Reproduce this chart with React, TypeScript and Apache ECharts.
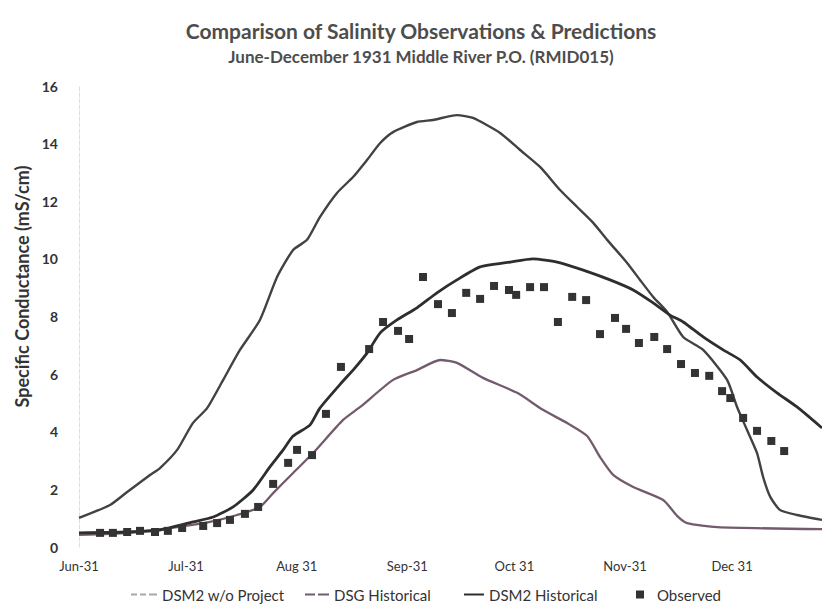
import React, { useEffect, useRef } from 'react';
import * as echarts from 'echarts';

// x values: days since 1 June 1931
const monthTicks = [0, 30, 61, 92, 122, 153, 183];
const monthLabels = ['Jun-31', 'Jul-31', 'Aug 31', 'Sep-31', 'Oct 31', 'Nov-31', 'Dec 31'];

const noProjectDay = [0, 8.7, 13.5, 19.9, 22.7, 27.5, 31.9, 35.9, 40.4, 45.1, 50.7, 55.5, 60.0, 63.9, 67.5, 72.3, 76.8, 80.7, 84.4, 88.0, 94.7, 99.2, 105.9, 110.4, 118.0, 123.6, 129.2, 134.8, 139.6, 144.1, 148.0, 153.6, 157.2, 160.9, 164.8, 169.3, 174.9, 181.6, 184.4, 187.2, 190.0, 191.7, 193.7, 196.5, 201.2, 208.2];
const noProjectVal = [1.01, 1.46, 1.91, 2.50, 2.74, 3.37, 4.30, 4.82, 5.80, 6.84, 7.88, 9.37, 10.31, 10.66, 11.45, 12.29, 12.84, 13.43, 14.02, 14.40, 14.75, 14.82, 14.99, 14.89, 14.37, 13.78, 13.19, 12.39, 11.80, 11.25, 10.66, 9.86, 9.27, 8.68, 8.16, 7.29, 6.84, 5.80, 4.86, 4.06, 3.26, 2.43, 1.74, 1.28, 1.11, 0.94];

const dsgDay = [0, 13.5, 27.5, 36.7, 44.3, 50.7, 54.4, 60.0, 65.6, 74.0, 78.8, 88.0, 94.7, 101.2, 105.9, 113.2, 122.8, 130.0, 136.8, 142.4, 146.0, 149.7, 155.3, 163.7, 167.6, 170.4, 178.8, 208.2];
const dsgVal = [0.42, 0.49, 0.69, 0.87, 1.11, 1.39, 1.87, 2.57, 3.26, 4.41, 4.86, 5.80, 6.14, 6.49, 6.39, 5.87, 5.35, 4.76, 4.30, 3.85, 3.12, 2.50, 2.08, 1.63, 1.08, 0.83, 0.69, 0.62];

const histDay = [0, 13.5, 22.7, 32.0, 37.6, 43.2, 48.8, 53.5, 57.2, 60.0, 64.7, 67.5, 74.0, 76.8, 80.7, 84.4, 89.1, 94.7, 100.3, 105.9, 112.4, 120.8, 127.2, 134.0, 141.3, 148.8, 155.3, 160.9, 165.6, 169.3, 174.9, 180.5, 185.3, 190.0, 195.6, 201.2, 208.2];
const histVal = [0.49, 0.52, 0.59, 0.87, 1.04, 1.39, 1.98, 2.78, 3.37, 3.85, 4.23, 4.82, 5.76, 6.14, 6.73, 7.43, 7.88, 8.30, 8.82, 9.27, 9.72, 9.89, 10.00, 9.89, 9.61, 9.27, 8.92, 8.47, 8.05, 7.81, 7.29, 6.84, 6.49, 5.90, 5.35, 4.86, 4.13];

const obsDay = [5.9, 9.5, 13.5, 17.1, 21.3, 24.9, 28.9, 34.8, 38.7, 42.3, 46.5, 50.2, 54.4, 58.6, 61.1, 65.3, 69.2, 73.4, 81.3, 85.2, 89.4, 92.5, 96.4, 100.6, 104.5, 108.5, 112.4, 116.3, 120.5, 122.5, 126.4, 130.3, 134.2, 138.2, 142.1, 146.0, 150.2, 153.3, 156.9, 161.2, 164.8, 168.7, 172.6, 176.6, 180.2, 182.5, 186.1, 190.0, 194.0, 197.6];
const obsVal = [0.49, 0.49, 0.52, 0.56, 0.52, 0.56, 0.66, 0.73, 0.83, 0.94, 1.15, 1.39, 2.19, 2.92, 3.37, 3.19, 4.62, 6.25, 6.87, 7.81, 7.50, 7.22, 9.37, 8.43, 8.12, 8.82, 8.61, 9.06, 8.92, 8.75, 9.02, 9.02, 7.81, 8.68, 8.57, 7.39, 7.95, 7.57, 7.08, 7.29, 6.87, 6.35, 6.04, 5.94, 5.41, 5.17, 4.48, 4.03, 3.68, 3.33];

const zip = (xs: number[], ys: number[]) => xs.map((x, i) => [x, ys[i]]);

const FONT = 'Lato, "Open Sans", sans-serif';
const C_NOPROJ = '#424242';
const C_DSG = '#735b6d';
const C_HIST = '#2e2e2e';
const C_OBS = '#333333';

export default function App() {
  const ref = useRef<HTMLDivElement>(null);
  useEffect(() => {
    if (!ref.current) return;
    const chart = echarts.init(ref.current, undefined, { renderer: 'svg' });
    const legendBase = {
      top: 582,
      itemHeight: 2,
      textStyle: { fontFamily: FONT, fontSize: 15, color: '#333' },
      selectedMode: false,
    };
    chart.setOption({
      animation: false,
      backgroundColor: '#ffffff',
      title: [
        {
          text: 'Comparison of Salinity Observations & Predictions',
          left: 421,
          top: 20,
          padding: 0,
          textAlign: 'center',
          textStyle: { fontFamily: FONT, fontSize: 21, fontWeight: 'bold', color: '#4d4d4d' },
        },
        {
          text: 'June-December 1931 Middle River P.O. (RMID015)',
          left: 421,
          top: 48,
          padding: 0,
          textAlign: 'center',
          textStyle: { fontFamily: FONT, fontSize: 17, fontWeight: 'bold', color: '#4d4d4d' },
        },
      ],
      legend: [
        {
          ...legendBase,
          left: 126,
          itemWidth: 26,
          data: [{
            name: 'DSM2 w/o Project',
            icon: 'path://M0,0h6v2h-6z M9,0h6v2h-6z M18,0h8v2h-8z',
            itemStyle: { color: '#a8a8a8' },
          }],
        },
        {
          ...legendBase,
          left: 300,
          itemWidth: 24,
          data: [{
            name: 'DSG Historical',
            icon: 'path://M0,0h10v2h-10z M13,0h11v2h-11z',
            itemStyle: { color: C_DSG },
          }],
        },
        {
          ...legendBase,
          left: 459,
          itemWidth: 20,
          data: [{
            name: 'DSM2 Historical',
            icon: 'path://M0,0h20v2h-20z',
            itemStyle: { color: C_HIST },
          }],
        },
        {
          ...legendBase,
          left: 631,
          itemWidth: 8,
          itemHeight: 8,
          textStyle: { ...legendBase.textStyle, padding: [0, 0, 0, 8] },
          data: [{ name: 'Observed', icon: 'rect', itemStyle: { color: C_OBS } }],
        },
      ],
      grid: { left: 79, right: 0, top: 86, bottom: 60 },
      xAxis: {
        type: 'value',
        min: 0,
        max: 208.2,
        axisLine: { show: false },
        axisTick: { show: false },
        splitLine: { show: false },
        axisLabel: {
          customValues: monthTicks,
          margin: 12,
          fontFamily: FONT,
          fontSize: 13,
          color: '#333',
          formatter: (v: number) => {
            const i = monthTicks.indexOf(v);
            return i >= 0 ? monthLabels[i] : '';
          },
        },
      },
      yAxis: {
        type: 'value',
        min: 0,
        max: 16,
        interval: 2,
        name: 'Specific Conductance (mS/cm)',
        nameLocation: 'middle',
        nameGap: 44,
        nameTextStyle: {
          fontFamily: FONT,
          fontSize: 18,
          fontWeight: 'bold',
          color: '#333',
          padding: [0, 0, 0, 60],
        },
        axisLine: { show: true, lineStyle: { color: '#dddddd', type: 'dashed', width: 1 } },
        axisTick: { show: false },
        splitLine: { show: false },
        axisLabel: { margin: 21, fontFamily: FONT, fontSize: 14, fontWeight: 'bold', color: '#333' },
      },
      series: [
        {
          name: 'DSM2 w/o Project',
          type: 'line',
          data: zip(noProjectDay, noProjectVal),
          symbol: 'none',
          smooth: 0.2,
          lineStyle: { color: C_NOPROJ, width: 2.4 },
          itemStyle: { color: C_NOPROJ },
          z: 2,
        },
        {
          name: 'DSG Historical',
          type: 'line',
          data: zip(dsgDay, dsgVal),
          symbol: 'none',
          smooth: 0.2,
          lineStyle: { color: C_DSG, width: 2.3 },
          itemStyle: { color: C_DSG },
          z: 2,
        },
        {
          name: 'DSM2 Historical',
          type: 'line',
          data: zip(histDay, histVal),
          symbol: 'none',
          smooth: 0.2,
          lineStyle: { color: C_HIST, width: 2.8 },
          itemStyle: { color: C_HIST },
          z: 3,
        },
        {
          name: 'Observed',
          type: 'scatter',
          data: zip(obsDay, obsVal),
          symbol: 'rect',
          symbolSize: 8,
          itemStyle: { color: C_OBS, opacity: 1 },
          z: 4,
        },
      ],
    });
    return () => chart.dispose();
  }, []);
  return (
    <div
      ref={ref}
      style={{ position: 'absolute', left: 0, top: 0, width: 822, height: 607, background: '#fff' }}
    />
  );
}
